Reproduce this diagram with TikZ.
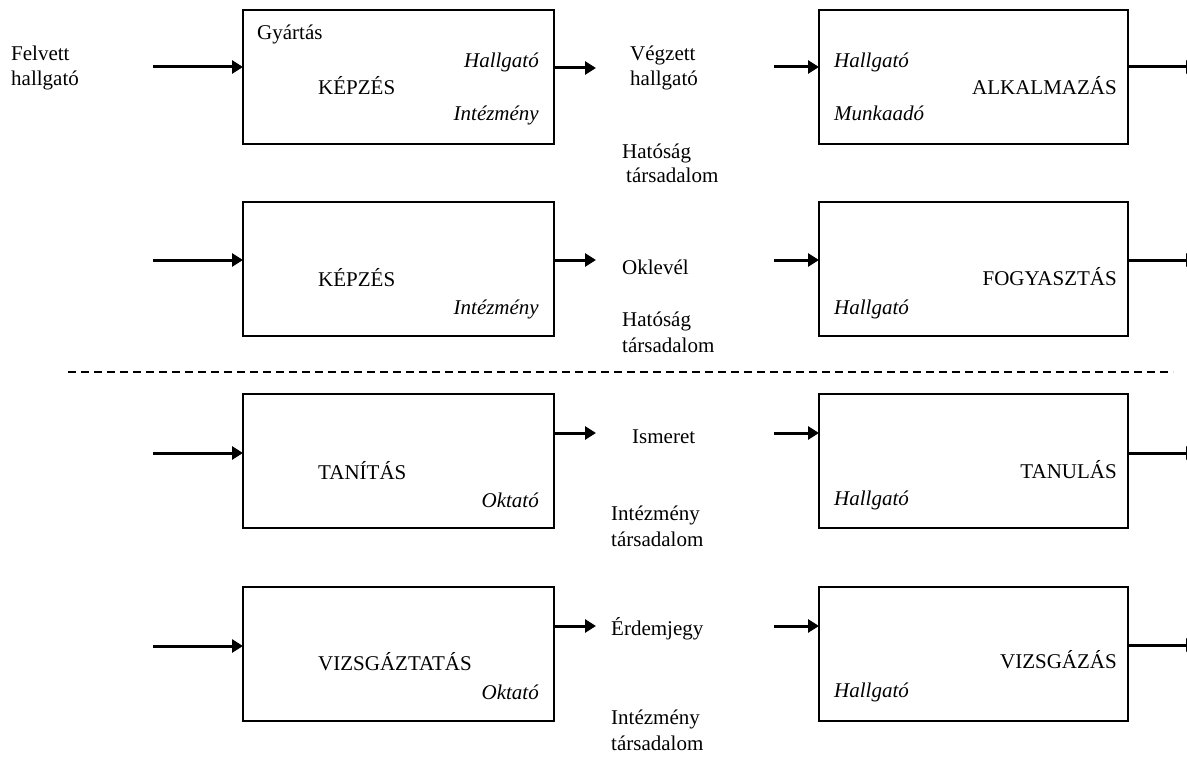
\documentclass[tikz,border=0pt]{standalone}
\usepackage{fontspec}
\setmainfont{Liberation Serif}
\usetikzlibrary{arrows.meta}
\begin{document}
\begin{tikzpicture}[x=1pt,y=-1pt,
  lbox/.style={draw, line width=1.5pt, minimum width=311pt, minimum height=134pt, inner sep=0pt, outer sep=0pt, anchor=north west},
  rbox/.style={lbox, minimum width=309pt},
  txt/.style={font=\fontsize{21}{25}\selectfont, inner sep=0pt},
  tl/.style={txt, anchor=base west},
  tr/.style={txt, anchor=base east},
  itl/.style={tl, font=\fontsize{21}{25}\selectfont\itshape},
  itr/.style={tr, font=\fontsize{21}{25}\selectfont\itshape},
  flow/.style={line width=3pt, -{Triangle[length=11pt,width=13pt]}},
  sep/.style={line width=1.2pt, dash pattern=on 8pt off 5pt}]
\useasboundingbox (0,0) rectangle (1187,760);

% ---------- boxes ----------
\node[lbox] (b1) at (243,10) {};
\node[rbox] (r1) at (819,10) {};
\node[lbox] (b2) at (243,202) {};
\node[rbox] (r2) at (819,202) {};
\node[lbox] (b3) at (243,394) {};
\node[rbox] (r3) at (819,394) {};
\node[lbox] (b4) at (243,587) {};
\node[rbox] (r4) at (819,587) {};

% ---------- texts in boxes ----------
\node[tl]  (b1a) at (257,40)  {Gyártás};
\node[itr] (b1b) at (539,68)  {Hallgató};
\node[tl]  (b1c) at (318,95)  {KÉPZÉS};
\node[itr] (b1d) at (539,121) {Intézmény};

\node[tl]  (b2a) at (318,286) {KÉPZÉS};
\node[itr] (b2b) at (539,314) {Intézmény};

\node[tl]  (b3a) at (318,479) {TANÍTÁS};
\node[itr] (b3b) at (539,507) {Oktató};

\node[tl]  (b4a) at (318,670) {VIZSGÁZTATÁS};
\node[itr] (b4b) at (539,699) {Oktató};

\node[itl] (r1a) at (834,68)  {Hallgató};
\node[tr]  (r1b) at (1117,95) {ALKALMAZÁS};
\node[itl] (r1c) at (834,121) {Munkaadó};

\node[tr]  (r2a) at (1117,285) {FOGYASZTÁS};
\node[itl] (r2b) at (834,314)  {Hallgató};

\node[tr]  (r3a) at (1117,478) {TANULÁS};
\node[itl] (r3b) at (834,505)  {Hallgató};

\node[tr]  (r4a) at (1117,668) {VIZSGÁZÁS};
\node[itl] (r4b) at (834,697)  {Hallgató};

% ---------- outside labels ----------
\node[tl] (f1) at (11,61) {Felvett};
\node[tl] (f2) at (11,86) {hallgató};

\node[tl] (v1) at (630,61) {Végzett};
\node[tl] (v2) at (630,86) {hallgató};
\node[tl] (h1) at (622,158) {Hatóság};
\node[tl] (h2) at (626,182) {társadalom};

\node[tl] (ok) at (622,274) {Oklevél};
\node[tl] (h3) at (622,326) {Hatóság};
\node[tl] (h4) at (622,352) {társadalom};

\node[tl] (is) at (632,443) {Ismeret};
\node[tl] (i1) at (611,520) {Intézmény};
\node[tl] (i2) at (611,546) {társadalom};

\node[tl] (er) at (611,635) {Érdemjegy};
\node[tl] (i3) at (611,724) {Intézmény};
\node[tl] (i4) at (611,750) {társadalom};

% ---------- arrow end points ----------
\coordinate (s1) at (153,67);
\coordinate (o1) at (596,68);
\coordinate (p1) at (774,67);
\coordinate (e1) at (1197,67);

\coordinate (s2) at (153,260);
\coordinate (o2) at (596,260);
\coordinate (p2) at (774,260);
\coordinate (e2) at (1197,260);

\coordinate (s3) at (153,453);
\coordinate (o3) at (596,433);
\coordinate (p3) at (774,433);
\coordinate (e3) at (1197,453);

\coordinate (s4) at (153,646);
\coordinate (o4) at (596,626);
\coordinate (p4) at (774,626);
\coordinate (e4) at (1197,645);

\foreach \i in {1,2,3,4}{
  \draw[flow] (s\i) -- (s\i -| b\i.west);
  \draw[flow] (o\i -| b\i.east) -- (o\i);
  \draw[flow] (p\i) -- (p\i -| r\i.west);
  \draw[flow] (e\i -| r\i.east) -- (e\i);
}

% ---------- separator ----------
\coordinate (dl) at (68,372);
\coordinate (dr) at (1173,372);
\draw[sep] (dl) -- (dr);
\end{tikzpicture}
\end{document}
